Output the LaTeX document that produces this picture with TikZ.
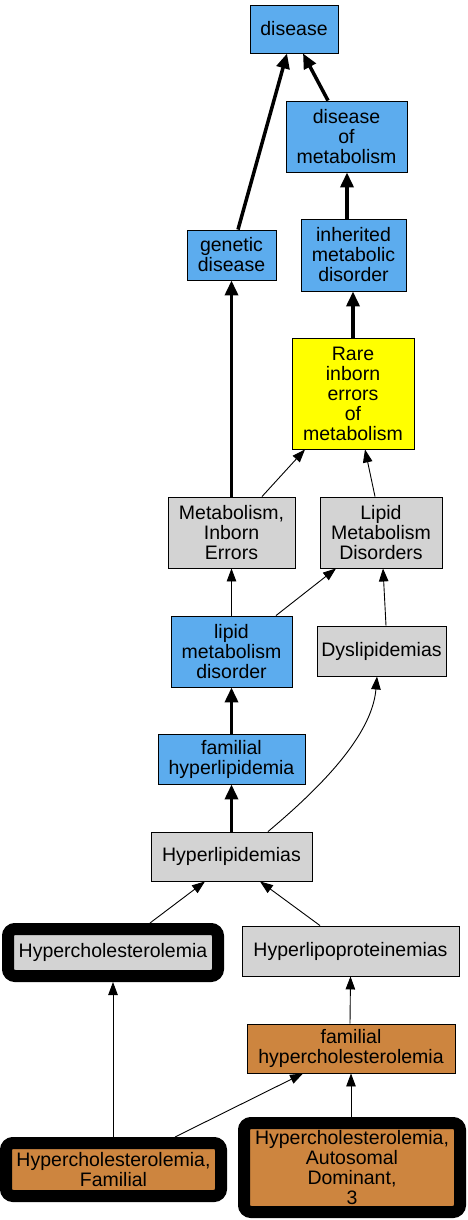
\documentclass[tikz,border=0pt]{standalone}
\usepackage{fontspec}
\setmainfont{Liberation Sans}
\usetikzlibrary{arrows.meta}
\definecolor{nblue}{RGB}{92,172,238}
\definecolor{ngray}{RGB}{211,211,211}
\definecolor{nyellow}{RGB}{255,255,0}
\definecolor{nperu}{RGB}{205,133,63}
\begin{document}
\begin{tikzpicture}[x=1pt,y=1pt,
  box/.style={draw=black, line width=0.9pt, inner sep=0pt, align=center,
    font=\fontsize{19.5}{20}\selectfont},
  bluebox/.style={box, fill=nblue},
  graybox/.style={box, fill=ngray},
  yellowbox/.style={box, fill=nyellow},
  perubox/.style={box, fill=nperu},
  heavy/.style={line width=12pt, rounded corners=7pt},
  thin/.style={draw, line width=0.9pt, -{Triangle[length=13pt,width=9.5pt]}},
  thick/.style={draw, line width=3.5pt, -{Triangle[length=15pt,width=13pt]}}]
\useasboundingbox (0,0) rectangle (467,-1220);
\node[bluebox, minimum width=88, minimum height=48] (disease) at (294,-29) {disease};
\node[bluebox, minimum width=121, minimum height=71] (dom) at (346.5,-136.5) {disease\\of\\metabolism};
\node[bluebox, minimum width=89, minimum height=50] (gen) at (231.5,-255) {genetic\\disease};
\node[bluebox, minimum width=105, minimum height=72] (imd) at (353.5,-255) {inherited\\metabolic\\disorder};
\node[yellowbox, minimum width=122, minimum height=111] (rare) at (353,-393.5) {Rare\\inborn\\errors\\of\\metabolism};
\node[graybox, minimum width=127, minimum height=71] (mie) at (231.5,-532.5) {Metabolism,\\Inborn\\Errors};
\node[graybox, minimum width=122, minimum height=71] (LMD) at (381,-532.5) {Lipid\\Metabolism\\Disorders};
\node[bluebox, minimum width=121, minimum height=71] (lmd) at (231.5,-651.5) {lipid\\metabolism\\disorder};
\node[graybox, minimum width=129, minimum height=50] (dys) at (381.5,-651) {Dyslipidemias};
\node[bluebox, minimum width=147, minimum height=50] (fh) at (231.5,-759) {familial\\hyperlipidemia};
\node[graybox, minimum width=161, minimum height=49] (hyp) at (231.5,-856.5) {Hyperlipidemias};
\node[graybox, heavy, minimum width=210, minimum height=47] (hc) at (113,-952.5) {Hypercholesterolemia};
\node[graybox, minimum width=217, minimum height=50] (hlp) at (350.5,-951) {Hyperlipoproteinemias};
\node[perubox, minimum width=208, minimum height=49] (fhc) at (351,-1048.5) {familial\\hypercholesterolemia};
\node[perubox, heavy, minimum width=215, minimum height=53] (hcf) at (113.5,-1169.5) {Hypercholesterolemia,\\Familial};
\node[perubox, heavy, minimum width=216, minimum height=89] (had) at (352,-1167.5) {Hypercholesterolemia,\\Autosomal\\Dominant,\\3};

\draw[thick] ([xshift=6.5pt]gen.north) -- ([xshift=-7pt]disease.south);
\draw[thick] ([xshift=-18.5pt]dom.north) -- ([xshift=9pt]disease.south);
\draw[thick] ([xshift=-6.5pt]imd.north) -- ([xshift=0.5pt]dom.south);
\draw[thick] (rare.north) -- ([xshift=-0.5pt]imd.south);
\draw[thick] (mie.north) -- (gen.south);
\draw[thin] ([xshift=30.5pt]mie.north) -- ([xshift=-48pt]rare.south);
\draw[thin] ([xshift=-6pt]LMD.north) -- ([xshift=12pt]rare.south);
\draw[thin] (lmd.north) -- (mie.south);
\draw[thin] ([xshift=44.5pt]lmd.north) -- ([xshift=-45pt]LMD.south);
\draw[thin] ([xshift=4.5pt]dys.north) -- ([xshift=2pt]LMD.south);
\draw[thick] (fh.north) -- (lmd.south);
\draw[thick] (hyp.north) -- (fh.south);
\draw[thin] ([xshift=36.5pt]hyp.north) .. controls +(50,42) and +(-5,-60) .. ([xshift=-4.5pt]dys.south);
\draw[thin] ([xshift=37pt]hc.north) -- ([xshift=-26.5pt]hyp.south);
\draw[thin] ([xshift=-30.5pt]hlp.north) -- ([xshift=28.5pt]hyp.south);
\draw[thin] ([xshift=-1pt]fhc.north) -- (hlp.south);
\draw[thin] ([xshift=-0.5pt]hcf.north) -- (hc.south);
\draw[thin] ([xshift=61.5pt]hcf.north) -- ([xshift=-48pt]fhc.south);
\draw[thin] ([xshift=-1pt]had.north) -- (fhc.south);
\end{tikzpicture}
\end{document}
